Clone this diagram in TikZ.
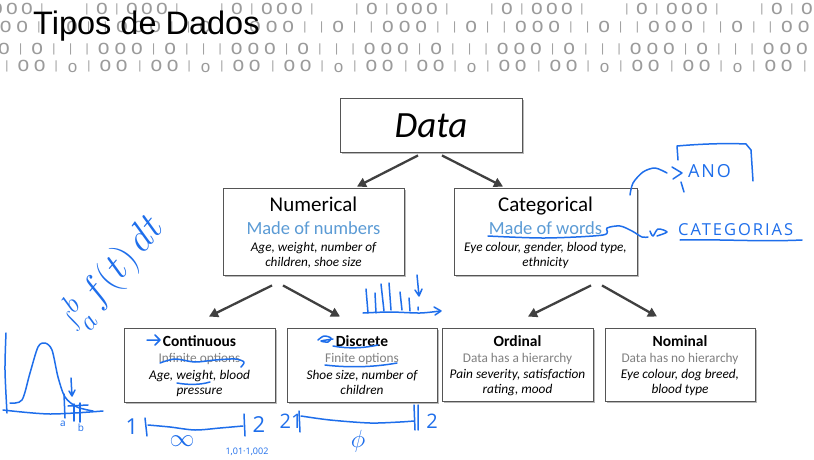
\documentclass[tikz,border=0pt]{standalone}
\usepackage{fontspec}
\setmainfont{Carlito}
\newfontfamily\arialf{Liberation Sans}
\newfontfamily\handf{Open Sans}
\usetikzlibrary{arrows.meta,shadows}
\definecolor{hblue}{RGB}{30,110,235}
\definecolor{acc}{RGB}{91,155,213}
\definecolor{boxline}{RGB}{85,85,85}
\definecolor{arrc}{RGB}{64,64,64}
\definecolor{bin}{RGB}{155,155,155}
\definecolor{subg}{RGB}{128,128,128}
\newcommand\fs[1]{\fontsize{#1}{#1}\selectfont}
\begin{document}
\begin{tikzpicture}[x=1pt,y=-1pt,
  box/.style={draw=boxline, line width=0.9pt, fill=white, inner sep=0pt,
    drop shadow={shadow xshift=1.5pt, shadow yshift=-1.5pt, opacity=0.45, fill=black!60}},
  txt/.style={anchor=base, inner sep=0pt},
  arr/.style={draw=arrc, line width=2.3pt, -{Triangle[length=9pt,width=9.5pt]}},
  hw/.style={draw=hblue, line width=1.5pt, line cap=round, line join=round},
  hwt/.style={text=hblue, inner sep=0pt},
  zero/.style={text=bin, inner sep=0pt, font=\arialf\fs{21}},
  one/.style={text=bin, inner sep=0pt, font=\arialf\fs{12}},
]
\fill[white] (0,0) rectangle (814,460);
\useasboundingbox (0,0) rectangle (814,460);

% binary background
\foreach \u in {0,...,7}{
  \foreach \i in {1,3,4,5} \node[zero] (ra\u\i) at ({-48+\u*135+\i*15}, 9) {o};
  \foreach \i in {0,2,6} \node[one] (ra\u\i) at ({-48+\u*135+\i*15}, 9) {|};
  \foreach \i in {2,5,6,7} \node[zero] (rb\u\i) at ({-94+\u*133+\i*16.6}, 27) {o};
  \foreach \i in {0,1,3,4} \node[one] (rb\u\i) at ({-94+\u*133+\i*16.6}, 27) {|};
  \foreach \i in {3,4,5,7} \node[zero] (rc\u\i) at ({-79+\u*133+\i*16.6}, 49) {o};
  \foreach \i in {0,1,2,6} \node[one] (rc\u\i) at ({-79+\u*133+\i*16.6}, 49) {|};
  \foreach \i in {1,2,6,7} \node[zero] (rd\u\i) at ({-126+\u*133+\i*16.4}, 66) {o};
  \foreach \i in {0,3,5} \node[one] (rd\u\i) at ({-126+\u*133+\i*16.4}, 66) {|};
  \node[zero, font=\arialf\fs{17}] (rd\u4) at ({-126+\u*133+4*16.4}, 68) {o};
}
\node[anchor=base west, inner sep=0pt, font=\arialf\fs{32.5}] (title) at (33,35) {Tipos de Dados};

% boxes
\node[box, minimum width=182pt, minimum height=54pt] (data) at (431,125) {};
\node[box, minimum width=181pt, minimum height=87pt] (num) at (313.5,231.5) {};
\node[box, minimum width=183pt, minimum height=87pt] (cat) at (545.5,231.5) {};
\node[box, minimum width=151pt, minimum height=74pt] (cont) at (199.5,365) {};
\node[box, minimum width=150pt, minimum height=74pt] (disc) at (362,365) {};
\node[box, minimum width=151pt, minimum height=73pt] (ord) at (517.5,364.5) {};
\node[box, minimum width=150pt, minimum height=73pt] (nom) at (680,364.5) {};

% texts
\node[txt, font=\itshape\fs{37}] (datat) at (431,137) {Data};

\node[txt, font=\fs{21}] (num1) at (313.5,211) {Numerical};
\node[txt, font=\fs{18.5}, text=acc] (num2) at (313.5,234) {Made of numbers};
\node[txt, font=\itshape\fs{13.2}] (num3) at (313.5,251.7) {Age, weight, number of};
\node[txt, font=\itshape\fs{13.2}] (num4) at (313.5,266.7) {children, shoe size};

\node[txt, font=\fs{21}] (cat1) at (545.5,211) {Categorical};
\node[txt, font=\fs{18.5}, text=acc] (cat2) at (545.5,234) {Made of words};
\node[txt, font=\itshape\fs{13.2}] (cat3) at (545.5,251.7) {Eye colour, gender, blood type,};
\node[txt, font=\itshape\fs{13.2}] (cat4) at (545.5,266.7) {ethnicity};

\node[txt, font=\bfseries\fs{15.5}] (cont1) at (199.5,346) {Continuous};
\node[txt, font=\fs{13.3}, text=subg] (cont2) at (199.5,362) {Infinite options};
\node[txt, font=\itshape\fs{13.3}] (cont3) at (199.5,379) {Age, weight, blood};
\node[txt, font=\itshape\fs{13.3}] (cont4) at (199.5,394) {pressure};

\node[txt, font=\bfseries\fs{15.5}] (disc1) at (362,346) {Discrete};
\node[txt, font=\fs{13.3}, text=subg] (disc2) at (362,362) {Finite options};
\node[txt, font=\itshape\fs{13.3}] (disc3) at (362,379) {Shoe size, number of};
\node[txt, font=\itshape\fs{13.3}] (disc4) at (362,394) {children};

\node[txt, font=\bfseries\fs{15.5}] (ord1) at (517.5,346) {Ordinal};
\node[txt, font=\fs{13.3}, text=subg] (ord2) at (517.5,362) {Data has a hierarchy};
\node[txt, font=\itshape\fs{13.3}] (ord3) at (517.5,378.5) {Pain severity, satisfaction};
\node[txt, font=\itshape\fs{13.3}] (ord4) at (517.5,393.5) {rating, mood};

\node[txt, font=\bfseries\fs{15.5}] (nom1) at (680,346) {Nominal};
\node[txt, font=\fs{13.3}, text=subg] (nom2) at (680,362) {Data has no hierarchy};
\node[txt, font=\itshape\fs{13.3}] (nom3) at (680,378.5) {Eye colour, dog breed,};
\node[txt, font=\itshape\fs{13.3}] (nom4) at (680,393.5) {blood type};

% arrows
\draw[arr] ([xshift=-13pt,yshift=-3pt]data.south) -- ([xshift=43.5pt,yshift=1pt]num.north);
\draw[arr] ([xshift=11pt,yshift=-3pt]data.south) -- ([xshift=-42.5pt,yshift=1pt]cat.north);
\draw[arr] ([xshift=-41.5pt,yshift=-10pt]num.south) -- ([xshift=9.5pt,yshift=11pt]cont.north);
\draw[arr] ([xshift=-30.5pt,yshift=-10pt]num.south) -- ([xshift=-22pt,yshift=11pt]disc.north);
\draw[arr] ([xshift=45.5pt,yshift=-10pt]cat.south) -- ([xshift=10.5pt,yshift=11pt]ord.north);
\draw[arr] ([xshift=56.5pt,yshift=-10pt]cat.south) -- ([xshift=-23pt,yshift=11pt]nom.north);

% ---- handwritten annotations ----
\draw[hw] plot[smooth] coordinates {(488,236) (545,238) (603,235) (607,228) (620,226) (632,231) (642,237) (648,237)};
\draw[hw] plot[smooth] coordinates {(650,231) (653,236) (658,229) (667,232) (657,236)};
\node[hwt, anchor=base west, font=\handf\addfontfeatures{LetterSpace=12}\fs{16.5}] (categ) at (678,235) {CATEGORIAS};
\draw[hw] (680,240) .. controls (720,239) and (760,242) .. (802,240);

\draw[hw] plot[smooth] coordinates {(630,195) (633,183) (643,172) (655,168) (667,173)};
\draw[hw] (672,167) -- (682,173) -- (673,179);
\draw[hw] (678,160) -- (677,146) .. controls (700,144) and (725,143) .. (746,144) -- (751,150) -- (753,181);
\draw[hw] (681,182) -- (684,192);
\node[hwt, anchor=base west, font=\handf\addfontfeatures{LetterSpace=10}\fs{18}] (ano) at (688,177) {ANO};

% integral
\node[hwt, rotate=50, scale=1.9, font=\fs{22}] (integ) at (112,273) {$\int_a^b f(t)\,dt$};

% bell curve plot
\draw[hw] plot[smooth] coordinates {(6,333) (5,370) (7,413)};
\draw[hw] plot[smooth] coordinates {(3,410) (50,414) (103,411)};
\draw[hw] plot[smooth] coordinates {(10,403) (22,400) (30,373) (38,347) (45,343) (52,350) (58,377) (65,397) (77,407) (93,411)};
\draw[hw] (64,394) -- (65,418);
\draw[hw] (71,378) -- (72,396) (69,391) -- (72,396) -- (75,390);
\draw[hw] (74,404) -- (74,421) (80,403) -- (80,422);
\draw[hw] (68,406) -- (88,405);
\node[hwt, font=\handf\fs{10}] (pa) at (63,424) {a};
\node[hwt, font=\handf\fs{10}] (pb) at (81,428) {b};

% histogram scribble
\draw[hw] plot[smooth] coordinates {(363,313) (390,312) (420,313) (440,311)};
\draw[hw] (434,307) -- (441,311) -- (435,315);
\draw[hw] (366,289) -- (368,313) (375,293) -- (376,313) (381,284) -- (384,311) (389,283) -- (391,310)
  (400,292) -- (402,310) (409,298) -- (410,311) (418,307) -- (418,310);
\draw[hw] (417,275) -- (419,296) (415,290) -- (419,296) -- (422,289);

% Continuous marks
\draw[hw] (147,340) -- (159,340) (155,335) -- (160,340) -- (155,345);
\draw[hw] plot[smooth] coordinates {(160,363) (175,359) (195,362) (215,360) (235,359) (244,362) (241,367)};
\draw[hw] (177,383) .. controls (188,385) and (200,385) .. (210,382);

% Discrete marks
\draw[hw] plot[smooth] coordinates {(318,340) (324,336) (331,338) (328,342) (321,341) (333,339)};
\draw[hw] (333,346) .. controls (348,349) and (365,348) .. (378,345);
\draw[hw] (325,365) .. controls (350,368) and (375,367) .. (397,363);

% number lines
\node[hwt, anchor=base, font=\handf\fs{22}] (c1) at (132,434) {1};
\draw[hw] (145,418) -- (147,436);
\draw[hw] plot[smooth] coordinates {(148,425) (170,427) (195,430) (220,428) (243,426)};
\draw[hw] (244,414) -- (245,436);
\node[hwt, anchor=base, font=\handf\fs{22}] (c2) at (259,432) {2};
\node[hwt, font=\fs{24}] (inf) at (182,441) {$\infty$};
\node[hwt, font=\handf\fs{9}] (small) at (247,452) {1,01·1,002};

\node[hwt, anchor=base, font=\handf\fs{20}] (d1) at (291,428) {21};
\draw[hw] (299,411) -- (300,432);
\draw[hw] plot[smooth] coordinates {(301,416) (330,420) (370,423) (400,422) (414,421)};
\draw[hw] (414,405) -- (415,430) (418,405) -- (418,430);
\node[hwt, anchor=base, font=\handf\fs{20}] (d2) at (432,428) {2};
\node[hwt, font=\fs{30}] (phi) at (358,441) {$\phi$};
\end{tikzpicture}
\end{document}
